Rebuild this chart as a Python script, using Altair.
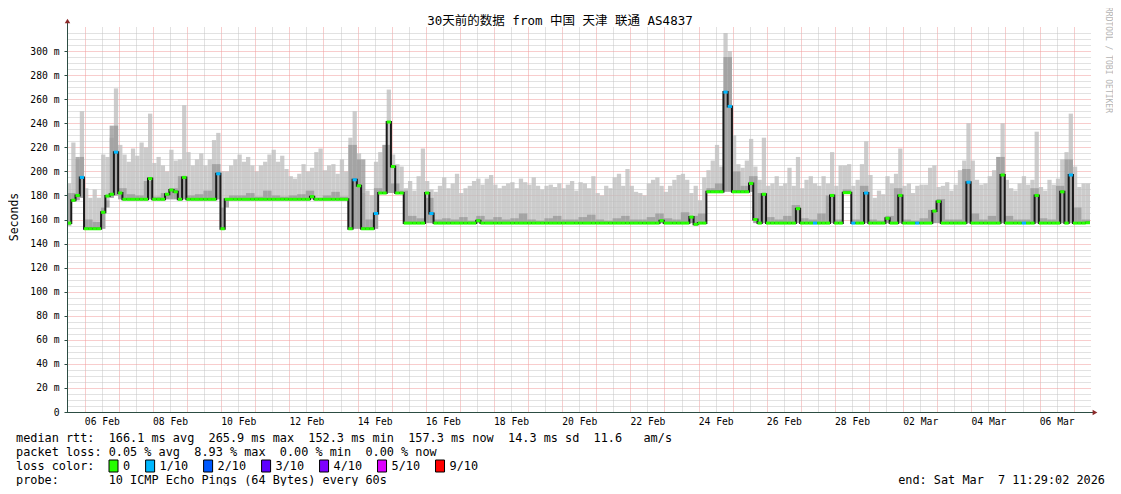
import altair as alt
import pandas as pd

# ---------------- data ----------------
# time axis: days since 2026-02-05 00:00 ; graph spans Feb 5 11:29 -> Mar 7 11:29
T_START = 0.4785
T_END = 30.4785
STEP = 0.125          # 3 h samples
MID_STEP = 0.25       # 6 h samples for the darker smoke

median_ms = [
    157, 176, 180, 195, 152.3, 152.3, 152.3, 152.3,
    166, 179.5, 181, 216, 182, 176.8, 176.8, 176.8,
    176.8, 176.8, 176.8, 194, 176.8, 176.8, 176.8, 181,
    184.5, 183, 176.8, 195, 176.8, 176.8, 176.8, 176.8,
    176.8, 176.8, 176.8, 198, 152.3, 176.8, 176.8, 176.8,
    176.8, 176.8, 176.8, 176.8, 176.8, 176.8, 176.8, 176.8,
    176.8, 176.8, 176.8, 176.8, 176.8, 176.8, 176.8, 176.8,
    176.8, 179, 176.8, 176.8, 176.8, 176.8, 176.8, 176.8,
    176.8, 176.8, 152.3, 193, 188, 152.3, 152.3, 152.3,
    165, 182, 182, 241, 204, 182, 182, 157,
    157, 157, 157, 157, 182, 165, 157, 157,
    157, 157, 157, 157, 157, 157, 157, 157,
    159, 157, 157, 157, 157, 157, 157, 157,
    157, 157, 157, 157, 157, 157, 157, 157,
    157, 157, 157, 157, 157, 157, 157, 157,
    157, 157, 157, 157, 157, 157, 157, 157,
    157, 157, 157, 157, 157, 157, 157, 157,
    157, 157, 157, 159, 157, 157, 157, 157,
    157, 157, 162, 156, 157, 157, 183, 183,
    183, 183, 265.9, 254, 183, 183, 183, 183,
    190, 160, 157, 181, 157, 157, 157, 157,
    157, 157, 157, 169, 157, 157, 157, 157,
    157, 157, 157, 180, 157, 157, 182.3, 182.3,
    157, 157, 157, 182, 157, 157, 157, 157,
    161, 157, 157, 180, 157, 157, 157, 157,
    157, 157, 157, 167, 175, 157, 157, 157,
    157, 157, 157, 191, 157, 157, 157, 157,
    157, 157, 157, 197, 157, 157, 157, 157,
    157, 157, 157, 180, 157, 157, 157, 157,
    157, 183, 157, 197, 157, 157, 157, 157.3,
]

ping_min_ms = [
    155, 175, 176, 178, 152.3, 152.3, 152.3, 152.3,
    152.3, 176, 178, 180, 176.8, 176.8, 176.8, 176.8,
    176.8, 176.8, 176.8, 176.8, 176.8, 176.8, 176.8, 176.8,
    176.8, 176.8, 176.8, 176.8, 176.8, 176.8, 176.8, 176.8,
    176.8, 176.8, 176.8, 176.8, 152.3, 176.8, 176.8, 176.8,
    176.8, 176.8, 176.8, 176.8, 176.8, 176.8, 176.8, 176.8,
    176.8, 176.8, 176.8, 176.8, 176.8, 176.8, 176.8, 176.8,
    176.8, 176.8, 176.8, 176.8, 176.8, 176.8, 176.8, 176.8,
    176.8, 176.8, 152.3, 152.3, 152.3, 152.3, 152.3, 152.3,
    152.3, 182, 182, 182, 182, 182, 182, 157,
    157, 157, 157, 157, 157, 157, 157, 157,
    157, 157, 157, 157, 157, 157, 157, 157,
    157, 157, 157, 157, 157, 157, 157, 157,
    157, 157, 157, 157, 157, 157, 157, 157,
    157, 157, 157, 157, 157, 157, 157, 157,
    157, 157, 157, 157, 157, 157, 157, 157,
    157, 157, 157, 157, 157, 157, 157, 157,
    157, 157, 157, 157, 157, 157, 157, 157,
    157, 157, 157, 156, 157, 157, 183, 183,
    183, 183, 183, 183, 183, 183, 183, 183,
    183, 157, 157, 157, 157, 157, 157, 157,
    157, 157, 157, 157, 157, 157, 157, 157,
    157, 157, 157, 157, 157, 157, 182.3, 182.3,
    157, 157, 157, 157, 157, 157, 157, 157,
    157, 157, 157, 157, 157, 157, 157, 157,
    157, 157, 157, 157, 157, 157, 157, 157,
    157, 157, 157, 157, 157, 157, 157, 157,
    157, 157, 157, 157, 157, 157, 157, 157,
    157, 157, 157, 157, 157, 157, 157, 157,
    157, 157, 157, 157, 157, 157, 157, 157,
]

smoke_max_ms = [
    190, 224, 210, 250, 186, 178, 185, 178,
    214, 212, 228, 269, 222, 214, 208, 219,
    213, 224, 220, 248, 207, 212, 205, 200,
    218, 209, 210, 255, 216, 205, 210, 215,
    205, 210, 226, 232, 200, 200, 205, 210,
    214, 208, 212, 205, 200, 205, 208, 214,
    218, 208, 213, 202, 196, 194, 198, 206,
    200, 203, 216, 219, 201, 205, 206, 198,
    210, 200, 228, 250, 215, 182, 184, 180,
    208, 216, 222, 268, 214, 206, 204, 186,
    192, 184, 196, 219, 192, 185, 183, 188,
    195, 186, 190, 198, 182, 186, 188, 192,
    194, 189, 194, 197, 189, 186, 188, 190,
    191, 186, 194, 191, 189, 195, 188, 185,
    188, 189, 187, 190, 186, 189, 192, 184,
    191, 190, 186, 196, 182, 180, 188, 186,
    195, 198, 188, 202, 188, 183, 182, 180,
    190, 193, 195, 188, 183, 188, 193, 197,
    198, 193, 182, 188, 176, 195, 201, 209,
    222, 204, 315, 300, 230, 206, 203, 209,
    227, 204, 193, 228, 188, 190, 196, 188,
    190, 203, 188, 212, 186, 193, 196, 190,
    188, 196, 190, 216, 188, 205, 205, 206,
    188, 193, 206, 225, 197, 178, 184, 181,
    196, 190, 198, 219, 188, 190, 182, 188,
    189, 189, 203, 205, 187, 188, 191, 184,
    189, 201, 209, 240, 209, 193, 189, 190,
    196, 201, 212, 240, 193, 186, 184, 190,
    196, 189, 193, 233, 187, 184, 193, 189,
    194, 210, 216, 248, 204, 187, 190, 190,
]

smoke_mid_ms = [
    182, 212, 160, 158,  170, 238, 186, 181,  180, 192, 179, 182,
    186, 196, 180, 181,  184, 206, 170, 180,  180, 182, 179, 184,
    180, 179, 180, 181,  184, 178, 180, 183,  179, 222, 210, 160,
    186, 222, 190, 184,  163, 161, 178, 160,  161, 160, 162, 159,
    163, 160, 162, 160,  161, 165, 160, 159,  161, 163, 160, 160,
    162, 164, 160, 159,  161, 163, 160, 160,  162, 165, 161, 160,
    166, 163, 165, 186,  190, 295, 200, 188,  196, 182, 162, 160,
    163, 172, 161, 160,  165, 180, 160, 185,  160, 188, 160, 159,
    163, 186, 160, 159,  161, 168, 177, 160,  160, 202, 165, 160,
    163, 212, 163, 160,  160, 186, 161, 160,  188, 210, 170, 160,
]

loss_1_10_samples = [3, 11, 35, 67, 72, 85, 154, 155, 175, 184, 187, 199, 211, 224, 235]

loss_labels = ["0", "1/10", "2/10", "3/10", "4/10", "5/10", "9/10"]
loss_colors = ["#26ff00", "#00b8ff", "#0059ff", "#5e00ff", "#7e00ff", "#dd00ff", "#ff0000"]

x_label_days = [1.5, 3.5, 5.5, 7.5, 9.5, 11.5, 13.5, 15.5, 17.5, 19.5, 21.5, 23.5, 25.5, 27.5, 29.5]
x_labels = ["06 Feb", "08 Feb", "10 Feb", "12 Feb", "14 Feb", "16 Feb", "18 Feb", "20 Feb",
            "22 Feb", "24 Feb", "26 Feb", "28 Feb", "02 Mar", "04 Mar", "06 Mar"]
y_label_values = [0, 20, 40, 60, 80, 100, 120, 140, 160, 180, 200, 220, 240, 260, 280, 300]

title_text = "30天前的数据 from 中国 天津 联通 AS4837"
line_rtt = "median rtt:  166.1 ms avg  265.9 ms max  152.3 ms min  157.3 ms now  14.3 ms sd  11.6   am/s"
line_loss = "packet loss: 0.05 % avg  8.93 % max  0.00 % min  0.00 % now"
line_color = "loss color:"
line_probe = "probe:       10 ICMP Echo Pings (64 Bytes) every 60s"
line_end = "end: Sat Mar  7 11:29:02 2026"
watermark = "RRDTOOL / TOBI OETIKER"

# ---------------- tables ----------------
n = len(median_ms)
df = pd.DataFrame({
    "t0": [T_START + STEP * i for i in range(n)],
    "t1": [T_START + STEP * (i + 1) for i in range(n)],
    "median": median_ms,
    "low": ping_min_ms,
    "top": smoke_max_ms,
    "mid": [smoke_mid_ms[int(i * STEP / MID_STEP)] for i in range(n)],
    "loss": ["1/10" if i in loss_1_10_samples else "0" for i in range(n)],
})
line_df = pd.DataFrame({"t": list(df["t0"]) + [T_END], "median": median_ms + [median_ms[-1]]})

NB = "\u00a0"
MONO = "DejaVu Sans Mono"
TITLE_FONT = "DejaVu Sans Mono, Noto Sans CJK SC"
W, H = 1023, 385
AXIS_C = "#2c4d43"
LIGHT = "#bfbfbf"
DARK = "#9a9a9a"
SMOKE_OPACITY = 0.8
GRID_MINOR = "#c4c4c4"
GRID_MAJOR = "#f09a9a"
LEG_SIZE = 11.85
CHAR_W = 7.12

xs = alt.Scale(domain=[T_START, T_END], nice=False, zero=False)
ys = alt.Scale(domain=[0, 320], nice=False, zero=False)

minor_x = [k + 0.5 for k in range(1, 30)]
major_x = list(range(1, 31))
minor_y = [v for v in range(5, 320, 5) if v % 20]
major_y = list(range(20, 320, 20))

x_expr = "[" + ",".join("'" + s + "'" for s in x_labels) + "][round((datum.value-1.5)/2)]"
y_expr = "datum.value == 0 ? '0" + NB + NB + "' : datum.value + '" + NB + "m'"


def grid_axis(values, color, orient):
    return alt.Axis(values=values, grid=True, gridColor=color, gridDash=[1, 1], gridWidth=1,
                    gridOpacity=1, labels=False, ticks=False, domain=False, title=None,
                    orient=orient)


base = alt.Chart(df)

light = base.mark_rect(color=LIGHT, opacity=SMOKE_OPACITY).encode(
    x=alt.X("t0:Q", scale=xs, axis=grid_axis(minor_x, GRID_MINOR, "bottom")),
    x2="t1:Q",
    y=alt.Y("top:Q", scale=ys, axis=grid_axis(minor_y, GRID_MINOR, "left")),
    y2="low:Q",
)

dark = base.mark_rect(color=DARK, opacity=SMOKE_OPACITY).encode(
    x=alt.X("t0:Q", scale=xs, axis=grid_axis(major_x, GRID_MAJOR, "bottom")),
    x2="t1:Q",
    y=alt.Y("mid:Q", scale=ys, axis=grid_axis(major_y, GRID_MAJOR, "left")),
    y2="low:Q",
)

med_line = alt.Chart(line_df).mark_line(interpolate="step-after", color="#1a1a1a", strokeWidth=2).encode(
    x=alt.X("t:Q", scale=xs, axis=alt.Axis(values=x_label_days, labelExpr=x_expr, grid=False, ticks=False,
                                          domain=False, title=None, orient="bottom", labelFont=MONO,
                                          labelFontSize=9.7, labelColor="#000000", labelPadding=4)),
    y=alt.Y("median:Q", scale=ys, axis=alt.Axis(values=y_label_values, labelExpr=y_expr, grid=False,
                                               ticks=True, tickSize=3, tickColor=AXIS_C, domain=False,
                                               title=None, orient="left", labelFont=MONO, labelFontSize=9.7,
                                               labelColor="#000000", labelPadding=5)),
)

green = base.mark_rule(strokeWidth=3, strokeCap="butt").encode(
    x=alt.X("t0:Q", scale=xs, axis=None),
    x2="t1:Q",
    y=alt.Y("median:Q", scale=ys, axis=None),
    color=alt.Color("loss:N", scale=alt.Scale(domain=loss_labels, range=loss_colors), legend=None),
)


def text_layer(txt, x, y, size=LEG_SIZE, align="left", color="#000000", angle=0, font=MONO):
    return alt.Chart(pd.DataFrame({"s": [txt.replace(" ", NB)]})).mark_text(
        align=align, baseline="middle", font=font, fontSize=size, color=color, angle=angle
    ).encode(text="s:N", x=alt.value(x), y=alt.value(y))


texts = [
    text_layer(title_text, 493, -6, size=12.5, align="center", font=TITLE_FONT),
    text_layer("Seconds", -52, 190, size=11.5, align="center", angle=270),
    text_layer(line_rtt, -51, 411),
    text_layer(line_loss, -51, 425),
    text_layer(line_color, -51, 439),
    text_layer(line_probe, -51, 453),
    text_layer(line_end, 1038, 453, align="right"),
    text_layer(watermark, 1041, 33, size=8, align="center", color="#b4b4b4", angle=90),
]

# loss colour key ("loss color:" row): boxes + labels laid out like rrdtool's legend
key_layers = []
key_x = 109 - 67
for lab, col in zip(loss_labels, loss_colors):
    key_layers.append(
        alt.Chart(pd.DataFrame({"a": [0]})).mark_point(
            shape="M-0.75,-1H0.75V1H-0.75Z", filled=True, fill=col, stroke="#000000",
            strokeWidth=1, size=144, opacity=1
        ).encode(x=alt.value(key_x + 4.5), y=alt.value(439))
    )
    key_layers.append(text_layer(lab, key_x + 14, 439))
    key_x += 14 + len(lab) * CHAR_W + 15.5

axis_df = pd.DataFrame({"a": [0]})
y_axis_line = alt.Chart(axis_df).mark_rule(color=AXIS_C, strokeWidth=1).encode(
    x=alt.value(0.5), y=alt.value(-5), y2=alt.value(385))
x_axis_line = alt.Chart(axis_df).mark_rule(color=AXIS_C, strokeWidth=1).encode(
    x=alt.value(0), x2=alt.value(1027), y=alt.value(385.5))
arrow_up = alt.Chart(axis_df).mark_point(shape="triangle-up", filled=True, color="#8b2a2a", size=30, opacity=1).encode(
    x=alt.value(0.5), y=alt.value(-6))
arrow_right = alt.Chart(axis_df).mark_point(shape="triangle-right", filled=True, color="#8b2a2a", size=30, opacity=1).encode(
    x=alt.value(1028), y=alt.value(385.5))

chart = alt.layer(
    light, dark, med_line, green,
    y_axis_line, x_axis_line, arrow_up, arrow_right, *texts, *key_layers
).resolve_axis(x="independent", y="independent").properties(
    width=W, height=H,
    padding={"left": 59, "top": 19, "right": 23, "bottom": 74},
    autosize=alt.AutoSizeParams(type="none"),
    background="#ffffff",
).configure_view(stroke=None)

chart.save("out.html", embed_options={"renderer": "svg", "actions": False})
